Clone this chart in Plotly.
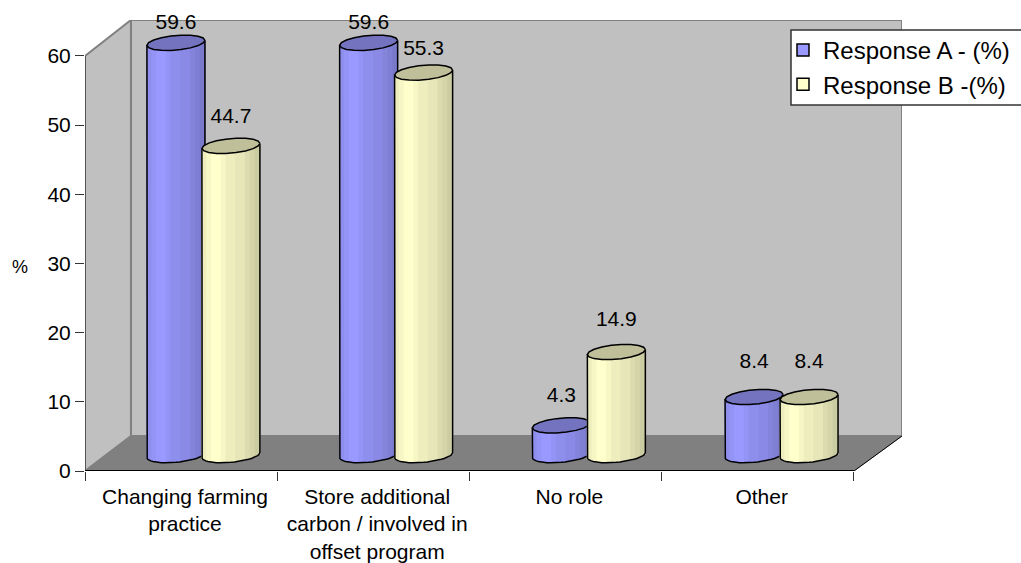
import math
import plotly.graph_objects as go

categories = ["Changing farming<br>practice",
              "Store additional<br>carbon / involved in<br>offset program",
              "No role", "Other"]
response_a = [59.6, 59.6, 4.3, 8.4]
response_b = [44.7, 55.3, 14.9, 8.4]
y_ticks = [0, 10, 20, 30, 40, 50, 60]

# style / geometry of the pseudo-3D scene, in axis units
X_MAX, Y_MAX = 4.25, 65.2
DX, DY = 0.239, 5.06           # depth of the box
FLOOR = 2.3                    # cylinders stand this far up the floor
W = 0.3017                     # cylinder width
GROUP_STEP = 1.0025
CENTER = {"a": 0.473, "b": 0.759}
SKEW, HALF_H = 0.36, 1.05      # ellipse tilt / half height
STRIPS = 24
label_lift_a = [2.8, 2.8, 4.2, 4.9]
label_lift_b = [4.05, 3.3, 4.5, 4.9]
FONT = "Liberation Sans, Arial, sans-serif"
BANDS = [0.93, 0.97, 1.0, 1.0, 0.97, 0.93, 0.93, 0.9, 0.9, 0.86, 0.83, 0.8]


def band_color(rgb, f):
    s = BANDS[min(int(f * len(BANDS)), len(BANDS) - 1)]
    return "rgb(%d,%d,%d)" % tuple(round(c * s) for c in rgb)


def add_cylinders(fig, name, values, center, rgb, top_color, lifts, xa, ya, group):
    centers = [i * GROUP_STEP + center for i in range(len(values))]
    # legend-carrying bar underneath the shaded strips
    fig.add_trace(go.Bar(
        x=centers, y=[v - 0.5 for v in values],
        base=FLOOR + 0.5, width=W * 0.9, name=name, legendgroup=group,
        marker=dict(color="rgb(%d,%d,%d)" % rgb, line=dict(color="#000", width=1.5)),
        xaxis=xa, yaxis=ya, hoverinfo="skip"))
    xs, bases, hs, cols = [], [], [], []
    outline_x, outline_y, top_x, top_y = [], [], [], []
    for cx, v in zip(centers, values):
        top = FLOOR + v
        for k in range(STRIPS):
            f = (k + 0.5) / STRIPS
            u = 2 * f - 1
            low = FLOOR + SKEW * u - HALF_H * math.sqrt(1 - u * u)
            xs.append(cx + u * W / 2)
            bases.append(low)
            hs.append(top + SKEW * u - low)
            cols.append(band_color(rgb, f))
        # outline: left side, front of the foot, right side
        outline_x.append(cx - W / 2); outline_y.append(top - SKEW)
        for k in range(25):
            t = math.pi * k / 24
            c = -math.cos(t)
            outline_x.append(cx + c * W / 2)
            outline_y.append(FLOOR + SKEW * c - HALF_H * math.sin(t))
        outline_x.append(cx + W / 2); outline_y.append(top + SKEW)
        outline_x.append(None); outline_y.append(None)
        for k in range(19):
            t = 2 * math.pi * k / 18
            top_x.append(cx + math.cos(t) * W / 2)
            top_y.append(top + SKEW * math.cos(t) + HALF_H * math.sin(t))
        top_x.append(None); top_y.append(None)
    fig.add_trace(go.Bar(x=xs, y=hs, base=bases, width=W / STRIPS * 1.45,
                         marker=dict(color=cols, line=dict(width=0)),
                         showlegend=False, hoverinfo="skip", xaxis=xa, yaxis=ya))
    fig.add_trace(go.Scatter(x=outline_x, y=outline_y, mode="lines",
                             line=dict(color="#000", width=1.5),
                             showlegend=False, hoverinfo="skip", xaxis=xa, yaxis=ya))
    fig.add_trace(go.Scatter(x=top_x, y=top_y, mode="lines", fill="toself",
                             fillcolor=top_color, line=dict(color="#000", width=1.5),
                             showlegend=False, hoverinfo="skip", xaxis=xa, yaxis=ya))
    return centers, [FLOOR + v + l for v, l in zip(values, lifts)]


fig = go.Figure()
xa_lab, ya_lab = add_cylinders(fig, "Response A - (%)", response_a, CENTER["a"], (153, 153, 255),
                               "#7373BF", label_lift_a, "x", "y", "a")
xb_lab, yb_lab = add_cylinders(fig, "Response B -(%)", response_b, CENTER["b"], (255, 255, 204),
                               "#BFBF99", label_lift_b, "x2", "y2", "b")
fig.add_trace(go.Scatter(x=xa_lab + xb_lab, y=ya_lab + yb_lab, mode="text",
                         text=[str(v) for v in response_a + response_b],
                         textposition="middle center", textfont=dict(size=21, color="#000"),
                         showlegend=False, hoverinfo="skip", xaxis="x2", yaxis="y2",
                         cliponaxis=False))

EDGE = dict(color="#808080", width=2)
def poly(points, fill, line):
    d = "M" + " L".join(f"{x},{y}" for x, y in points) + " Z"
    return dict(type="path", path=d, xref="x", yref="y", fillcolor=fill, line=line, layer="below")

PW, PH = 817, 451
def px_x(p): return (p - 85) / PW
def px_y(p): return (471 - p) / PH

shapes = [
    poly([(DX, DY), (X_MAX, DY), (X_MAX, Y_MAX), (DX, Y_MAX)], "#C0C0C0", EDGE),
    poly([(0, 0), (DX, DY), (DX, Y_MAX), (0, 60)], "#C0C0C0", EDGE),
    poly([(0, 0), (DX, DY), (X_MAX, DY), (4, 0)], "#808080", dict(color="#808080", width=1)),
    dict(type="line", xref="x", yref="y", x0=0, x1=4, y0=0, y1=0, line=dict(color="#000", width=2), layer="above"),
    dict(type="line", xref="x", yref="y", x0=0, x1=0, y0=0, y1=60, line=dict(color="#555", width=2), layer="below"),
    dict(type="line", xref="x", yref="y", x0=4, x1=X_MAX, y0=0, y1=DY, line=dict(color="#000", width=1), layer="below"),
    # legend frame, runs off the right edge of the picture
    dict(type="rect", xref="paper", yref="paper", x0=px_x(791), x1=px_x(1030),
         y0=px_y(105), y1=px_y(30), fillcolor="#FFFFFF", line=dict(color="#333", width=1.5), layer="above"),
]

fig.update_layout(
    width=1021, height=563, barmode="overlay",
    margin=dict(l=85, r=119, t=20, b=92, autoexpand=False),
    paper_bgcolor="#FFFFFF", plot_bgcolor="rgba(0,0,0,0)",
    font=dict(family=FONT, size=21, color="#000"),
    shapes=shapes, hovermode=False,
    annotations=[dict(text="%", xref="paper", yref="paper", x=px_x(20), y=px_y(267),
                      xanchor="center", yanchor="middle", showarrow=False, font=dict(size=18))],
    xaxis=dict(range=[0, X_MAX], tickvals=[i + 0.52 for i in range(len(categories))],
               ticktext=categories, ticks="", showgrid=False, zeroline=False, showline=False,
               tickangle=0, tickfont=dict(size=21), ticklabelstandoff=11,
               minor=dict(tickvals=list(range(len(categories) + 1)), ticks="outside",
                          ticklen=9, tickwidth=1, tickcolor="#333", showgrid=False)),
    yaxis=dict(range=[0, Y_MAX], tickvals=y_ticks, ticks="outside", ticklen=9, tickwidth=1,
               tickcolor="#333", showgrid=False, zeroline=False, showline=False,
               tickfont=dict(size=21)),
    xaxis2=dict(range=[0, X_MAX], overlaying="x", visible=False),
    yaxis2=dict(range=[0, Y_MAX], overlaying="y", visible=False),
    legend=dict(x=px_x(787), xanchor="left", y=px_y(28), yanchor="top",
                bgcolor="rgba(0,0,0,0)", borderwidth=0, indentation=-4,
                font=dict(size=24), tracegroupgap=8, traceorder="normal"),
)
fig.write_html("out.html", config={"displayModeBar": False},
               post_script="document.body.style.margin='0';")
